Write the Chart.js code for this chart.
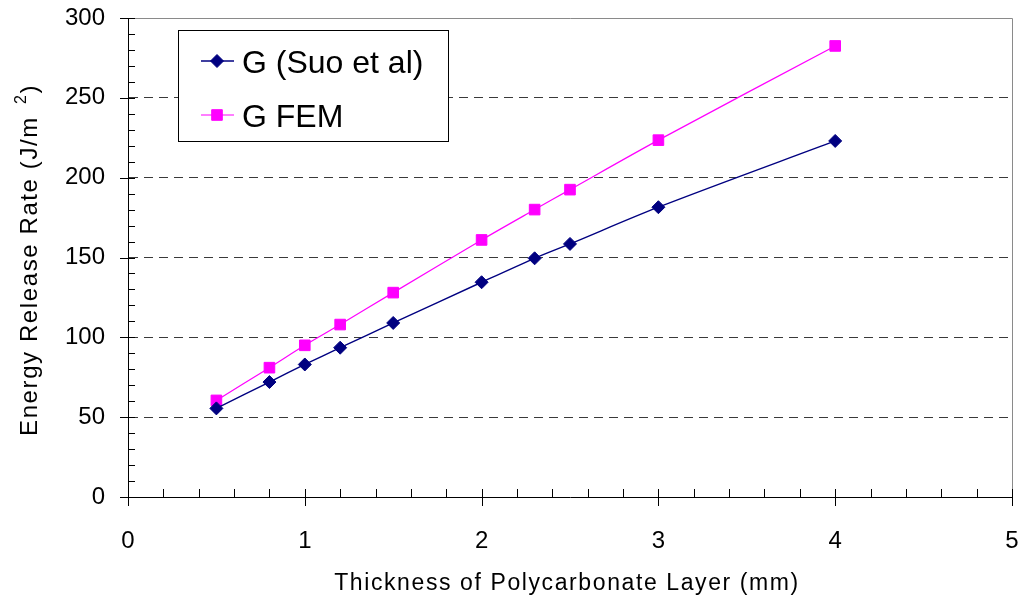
<!DOCTYPE html>
<html>
<head>
<meta charset="utf-8">
<title>Energy Release Rate vs Thickness</title>
<script src="https://cdn.jsdelivr.net/npm/chart.js@4.4.1/dist/chart.umd.min.js"></script>
<style>
  html, body { margin: 0; padding: 0; background: #fff; }
  #wrap { width: 1023px; height: 601px; position: relative; }
</style>
</head>
<body>
<div id="wrap"><canvas id="chart"></canvas></div>
<script>
// Layer thickness (mm)
const thickness = [0.5, 0.8, 1.0, 1.2, 1.5, 2.0, 2.3, 2.5, 3.0, 4.0];
// Energy release rate, analytical (Suo et al)
const gSuo = [55.5, 72, 83, 93.5, 109, 134.5, 149.5, 158.5, 181.5, 223];
// Energy release rate, finite element model
const gFem = [60.5, 81, 95, 108, 128, 161, 180, 192.5, 223.5, 282.5];

const seriesNames = ['G (Suo et al)', 'G FEM'];
const xTickValues = [0, 1, 2, 3, 4, 5];
const yTickValues = [0, 50, 100, 150, 200, 250, 300];
const xTitle = 'Thickness of Polycarbonate Layer (mm)';
const yTitleMain = 'Energy Release Rate (J/m';
const yTitleSup = '2';
const yTitleEnd = ')';

const FONT = '"Liberation Sans", Arial, sans-serif';

// Axis decoration: frame, crossing major ticks, inner minor ticks, titles
const axisDecor = {
  id: 'axisDecor',
  beforeDatasetsDraw(chart) {
    const { ctx, chartArea: a, scales } = chart;
    const xs = scales.x, ys = scales.y;
    ctx.save();
    // top and right frame
    ctx.strokeStyle = '#8a8a8a';
    ctx.lineWidth = 1;
    ctx.beginPath();
    ctx.moveTo(a.left, a.top + 0.5);
    ctx.lineTo(a.right + 0.5, a.top + 0.5);
    ctx.lineTo(a.right + 0.5, a.bottom);
    ctx.stroke();

    ctx.strokeStyle = '#000';
    ctx.beginPath();
    // y ticks: majors every 50 cross the axis, minors every 10 point inward
    for (let v = ys.min; v <= ys.max + 1e-9; v += 10) {
      const y = Math.round(ys.getPixelForValue(v)) + 0.5;
      const major = Math.abs(v % 50) < 1e-9;
      ctx.moveTo(major ? a.left - 8 : a.left, y);
      ctx.lineTo(a.left + 7, y);
    }
    // x ticks: majors every 1 cross the axis, minors every 0.2 point inward
    for (let i = 0; i <= 25; i++) {
      const v = i * 0.2;
      const x = Math.round(xs.getPixelForValue(v)) + 0.5;
      const major = i % 5 === 0;
      ctx.moveTo(x, a.bottom - 8);
      ctx.lineTo(x, major ? a.bottom + 9 : a.bottom);
    }
    ctx.stroke();

    // x title
    ctx.fillStyle = '#000';
    ctx.font = '23px ' + FONT;
    ctx.letterSpacing = '1.6px';
    ctx.textAlign = 'center';
    ctx.textBaseline = 'alphabetic';
    ctx.fillText(xTitle, (a.left + a.right) / 2 - 3, 590);

    // y title with superscript
    ctx.translate(37, 260);
    ctx.rotate(-Math.PI / 2);
    ctx.font = '24px ' + FONT;
    ctx.letterSpacing = '1.6px';
    ctx.textAlign = 'left';
    const mainW = ctx.measureText(yTitleMain).width;
    ctx.font = '16px ' + FONT;
    const supW = ctx.measureText(yTitleSup).width;
    ctx.font = '24px ' + FONT;
    const endW = ctx.measureText(yTitleEnd).width;
    const gap = 12;
    const total = mainW + gap + supW + endW;
    let x0 = -total / 2;
    ctx.fillText(yTitleMain, x0, 0);
    x0 += mainW + gap;
    ctx.font = '16px ' + FONT;
    ctx.fillText(yTitleSup, x0, -11);
    x0 += supW;
    ctx.font = '24px ' + FONT;
    ctx.fillText(yTitleEnd, x0, 0);
    ctx.restore();
  }
};

// Boxed legend inside the plot
const boxLegend = {
  id: 'boxLegend',
  afterDraw(chart) {
    const { ctx } = chart;
    const bx = 178.5, by = 30.5, bw = 270, bh = 111;
    ctx.save();
    ctx.fillStyle = '#fff';
    ctx.fillRect(bx, by, bw, bh);
    ctx.strokeStyle = '#000';
    ctx.lineWidth = 1;
    ctx.strokeRect(bx, by, bw, bh);
    const rows = [61, 115];
    chart.data.datasets.forEach((ds, i) => {
      const y = rows[i];
      ctx.strokeStyle = ds.borderColor;
      ctx.lineWidth = ds.borderWidth;
      ctx.beginPath();
      ctx.moveTo(201, y);
      ctx.lineTo(234, y);
      ctx.stroke();
      ctx.fillStyle = ds.pointBackgroundColor;
      ctx.strokeStyle = ds.pointBorderColor;
      ctx.lineWidth = 1;
      Chart.helpers.drawPoint(ctx, {
        pointStyle: ds.pointStyle,
        radius: ds.pointRadius,
        borderWidth: 1,
        rotation: 0
      }, 217, y);
      ctx.fillStyle = '#000';
      ctx.font = '32px ' + FONT;
      ctx.textAlign = 'left';
      ctx.textBaseline = 'alphabetic';
      ctx.fillText(ds.label, 242, y + 12);
    });
    ctx.restore();
  }
};

const toPoints = (xs, ys) => xs.map((x, i) => ({ x, y: ys[i] }));

new Chart(document.getElementById('chart'), {
  type: 'line',
  data: {
    datasets: [
      {
        label: seriesNames[0],
        data: toPoints(thickness, gSuo),
        borderColor: '#000080',
        backgroundColor: '#000080',
        pointBackgroundColor: '#000080',
        pointBorderColor: '#000080',
        borderWidth: 1.4,
        pointStyle: 'rectRot',
        pointRadius: 6.5,
        pointBorderWidth: 1,
        tension: 0.3,
        fill: false
      },
      {
        label: seriesNames[1],
        data: toPoints(thickness, gFem),
        borderColor: '#ff00ff',
        backgroundColor: '#ff00ff',
        pointBackgroundColor: '#ff00ff',
        pointBorderColor: '#ff00ff',
        borderWidth: 1.2,
        pointStyle: 'rect',
        pointRadius: 7.5,
        pointBorderWidth: 1,
        tension: 0.3,
        fill: false
      }
    ]
  },
  options: {
    responsive: true,
    maintainAspectRatio: false,
    animation: false,
    layout: { padding: { top: 18, right: 11, left: 0, bottom: 0 } },
    plugins: {
      legend: { display: false },
      tooltip: { enabled: false },
      title: { display: false }
    },
    scales: {
      x: {
        type: 'linear',
        min: 0,
        max: 5,
        afterBuildTicks: s => { s.ticks = xTickValues.map(v => ({ value: v })); },
        afterFit: s => { s.height = 104; },
        grid: { display: false, drawTicks: true, tickLength: 30, tickColor: 'rgba(0,0,0,0)' },
        border: { display: true, color: '#000', width: 1 },
        ticks: {
          padding: 0,
          color: '#000',
          font: { family: FONT, size: 24 },
          maxRotation: 0
        }
      },
      y: {
        type: 'linear',
        min: 0,
        max: 300,
        afterBuildTicks: s => { s.ticks = yTickValues.map(v => ({ value: v })); },
        afterFit: s => { s.width = 128; },
        grid: {
          drawTicks: true,
          tickLength: 23,
          tickColor: 'rgba(0,0,0,0)',
          color: c => (c.tick && (c.tick.value === 0 || c.tick.value === 300)) ? 'rgba(0,0,0,0)' : '#3a3a3a',
          lineWidth: 1
        },
        border: { display: true, color: '#000', width: 1, dash: [9, 6] },
        ticks: {
          padding: 0,
          color: '#000',
          font: { family: FONT, size: 24 }
        }
      }
    }
  },
  plugins: [axisDecor, boxLegend]
});
</script>
</body>
</html>
